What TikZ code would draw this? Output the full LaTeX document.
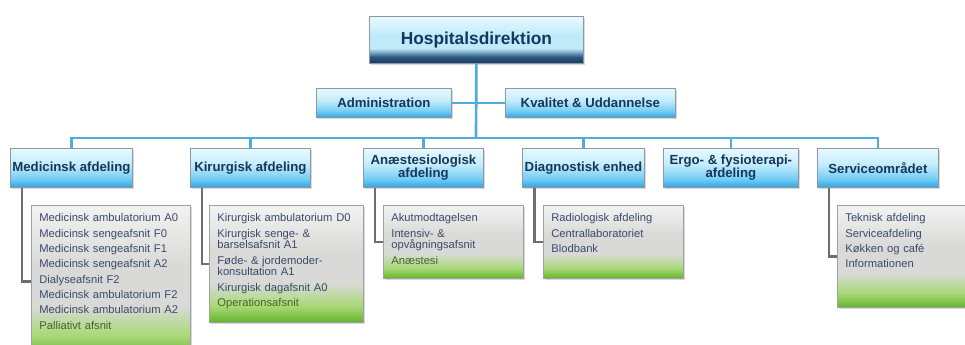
\documentclass[tikz,border=0pt]{standalone}
\usepackage{fontspec}
\setmainfont{Liberation Sans}
\usepackage{xcolor}
\usetikzlibrary{shadows}
\definecolor{linkblue}{HTML}{52ABDD}
\definecolor{linkgray}{HTML}{6E6E6E}
\definecolor{headtext}{HTML}{17365D}
\definecolor{listtext}{HTML}{3B4A6B}
\definecolor{listgreen}{HTML}{3A6B1F}
\definecolor{boxline}{HTML}{8C98A4}
\definecolor{listline}{HTML}{A0A0A0}
\definecolor{topbot}{HTML}{163A5F}
\definecolor{topdark}{HTML}{2D5A82}
\definecolor{topmid}{HTML}{BFEAF9}
\definecolor{toplight}{HTML}{E8FBFF}
\definecolor{deptbot}{HTML}{2AA6E3}
\definecolor{deptmid}{HTML}{74CDF3}
\definecolor{deptlight}{HTML}{C4EDFB}
\definecolor{depttop}{HTML}{E6F9FF}
\definecolor{listbot}{HTML}{62B52A}
\definecolor{listgrn}{HTML}{A9D877}
\definecolor{listmid}{HTML}{D9DAD8}
\definecolor{listtop}{HTML}{F2F2F2}
\pgfdeclareverticalshading{topshade}{100bp}{color(0bp)=(topbot); color(25bp)=(topbot); color(32bp)=(topdark); color(41bp)=(topmid); color(55bp)=(topmid); color(75bp)=(toplight); color(100bp)=(toplight)}
\pgfdeclareverticalshading{deptshade}{100bp}{color(0bp)=(deptbot); color(25bp)=(deptbot); color(36bp)=(deptmid); color(55bp)=(deptlight); color(75bp)=(depttop); color(100bp)=(depttop)}
\pgfdeclareverticalshading{listshade}{100bp}{color(0bp)=(listbot); color(25bp)=(listbot); color(32bp)=(listgrn); color(42bp)=(listmid); color(55bp)=(listmid); color(75bp)=(listtop); color(100bp)=(listtop)}

\begin{document}
\begin{tikzpicture}[x=0.75pt,y=-0.75pt,
  topbox/.style={draw=boxline, line width=0.6pt, shading=topshade, drop shadow={shadow xshift=1.2pt, shadow yshift=-1.2pt, opacity=0.3},
    anchor=north west, inner sep=0pt, minimum height=35.25pt, text=headtext, font=\fontsize{13}{13}\selectfont\bfseries},
  deptbox/.style={draw=boxline, line width=0.6pt, shading=deptshade, drop shadow={shadow xshift=1.2pt, shadow yshift=-1.2pt, opacity=0.3},
    anchor=north west, inner sep=0pt, align=center, text=headtext, font=\fontsize{9.9}{9.75}\selectfont\bfseries},
  listbox/.style={draw=listline, line width=0.6pt, shading=listshade, drop shadow={shadow xshift=1.2pt, shadow yshift=-1.2pt, opacity=0.3},
    anchor=north west, inner xsep=6pt, inner ysep=5.4pt, text height=7pt, align=left, text=listtext, font=\fontsize{8.4}{8}\selectfont},
  bluelink/.style={linkblue, line width=2pt},
  graylink/.style={linkgray, line width=2pt}]
\useasboundingbox (0,0) rectangle (965,344);
  \node[topbox, minimum width=160.5pt] (top) at (369,16) {Hospitalsdirektion};
  \node[deptbox, minimum width=101.25pt, minimum height=21.75pt] (adm) at (316,88) {Administration};
  \node[deptbox, minimum width=127.5pt, minimum height=21.75pt] (kval) at (505,88) {Kvalitet \& Uddannelse};
  \node[deptbox, minimum width=91.5pt, minimum height=29.25pt] (med) at (10,148) {Medicinsk afdeling};
  \node[deptbox, minimum width=90pt, minimum height=29.25pt] (kir) at (190,148) {Kirurgisk afdeling};
  \node[deptbox, minimum width=90pt, minimum height=29.25pt] (anae) at (363,148) {Anæstesiologisk\\afdeling};
  \node[deptbox, minimum width=91.5pt, minimum height=29.25pt] (diag) at (522,148) {Diagnostisk enhed};
  \node[deptbox, minimum width=101.25pt, minimum height=29.25pt] (ergo) at (663,148) {Ergo- \& fysioterapi-\\afdeling};
  \node[deptbox, minimum width=90.75pt, minimum height=29.25pt] (serv) at (817,148) {Serviceområdet};
  \coordinate (bar) at (476,138);
  \draw[bluelink] (top.south) -- (bar);
  \draw[bluelink] (adm.east) -- (kval.west);
  \draw[bluelink] (med.north) |- (bar);
  \draw[bluelink] (kir.north) |- (bar);
  \draw[bluelink] (anae.north) |- (bar);
  \draw[bluelink] (diag.north) |- (bar);
  \draw[bluelink] (ergo.north) |- (bar);
  \draw[bluelink] (serv.north) |- (bar);
  \node[listbox, text width=107.25pt, text depth=96pt] (medList) at (31,205) {Medicinsk ambulatorium A0\\[3.5pt]
    Medicinsk sengeafsnit F0\\[3.5pt] Medicinsk sengeafsnit F1\\[3.5pt] Medicinsk sengeafsnit A2\\[3.5pt]
    Dialyseafsnit F2\\[3.5pt] Medicinsk ambulatorium F2\\[3.5pt] Medicinsk ambulatorium A2\\[3.5pt]
    {\color{listgreen}Palliativt afsnit}};
  \node[listbox, text width=103.5pt, text depth=70pt] (kirList) at (209,205) {Kirurgisk ambulatorium D0\\[4pt]
    Kirurgisk senge- \&\\ barselsafsnit A1\\[4pt] Føde- \& jordemoder-\\ konsultation A1\\[4pt]
    Kirurgisk dagafsnit A0\\[3.5pt] {\color{listgreen}Operationsafsnit}};
  \node[listbox, text width=93pt, text depth=37pt] (anaeList) at (383,205) {Akutmodtagelsen\\[4pt]
    Intensiv- \&\\ opvågningsafsnit\\[4pt] {\color{listgreen}Anæstesi}};
  \node[listbox, text width=93pt, text depth=37pt] (diagList) at (543,205) {Radiologisk afdeling\\[3.5pt]
    Centrallaboratoriet\\[3.5pt] Blodbank};
  \node[listbox, text width=90pt, text depth=58.7pt] (servList) at (837,205) {Teknisk afdeling\\[3.5pt]
    Serviceafdeling\\[3.5pt] Køkken og café\\[3.5pt] Informationen};
  \draw[graylink] ([xshift=9pt]med.south west) |- (medList.west);
  \draw[graylink] ([xshift=9pt]kir.south west) |- (kirList.west);
  \draw[graylink] ([xshift=9pt]anae.south west) |- (anaeList.west);
  \draw[graylink] ([xshift=9.5pt]diag.south west) |- (diagList.west);
  \draw[graylink] ([xshift=9pt]serv.south west) |- (servList.west);
\end{tikzpicture}
\end{document}
